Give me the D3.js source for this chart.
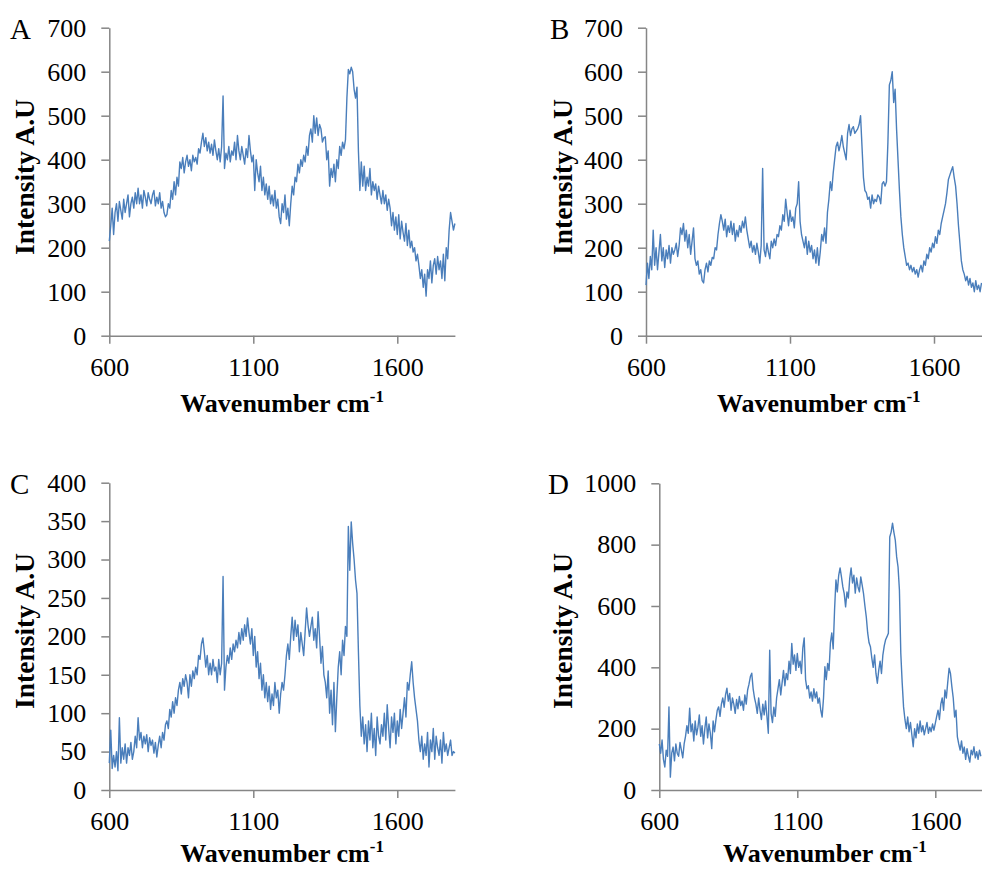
<!DOCTYPE html>
<html>
<head>
<meta charset="utf-8">
<script src="https://cdn.jsdelivr.net/npm/d3@7"></script>
<style>
  html, body { margin: 0; padding: 0; background: #ffffff; }
  svg { display: block; }
  text { font-family: "Liberation Serif", "Times New Roman", serif; fill: #000; }
</style>
</head>
<body>
<svg id="chart" width="982" height="869"></svg>
<script>
// Raman shift grid shared by all four spectra (cm-1)
const wavenumbers = [
  600,605,610,615,620,625,630,635,640,645,
  650,655,660,665,670,675,680,685,690,695,
  700,705,710,715,720,725,730,735,740,745,
  750,755,760,765,770,775,780,785,790,795,
  800,805,810,815,820,825,830,835,840,845,
  850,855,860,865,870,875,880,885,890,895,
  900,905,910,915,920,925,930,935,940,945,
  950,955,960,965,970,975,980,985,990,995,
  1000,1005,1010,1015,1020,1025,1030,1035,1040,1045,
  1050,1055,1060,1065,1070,1075,1080,1085,1090,1095,
  1100,1105,1110,1115,1120,1125,1130,1135,1140,1145,
  1150,1155,1160,1165,1170,1175,1180,1185,1190,1195,
  1200,1205,1210,1215,1220,1225,1230,1235,1240,1245,
  1250,1255,1260,1265,1270,1275,1280,1285,1290,1295,
  1300,1305,1310,1315,1320,1325,1330,1335,1340,1345,
  1350,1355,1360,1365,1370,1375,1380,1385,1390,1395,
  1400,1405,1410,1415,1420,1425,1430,1435,1440,1445,
  1450,1455,1460,1465,1470,1475,1480,1485,1490,1495,
  1500,1505,1510,1515,1520,1525,1530,1535,1540,1545,
  1550,1555,1560,1565,1570,1575,1580,1585,1590,1595,
  1600,1605,1610,1615,1620,1625,1630,1635,1640,1645,
  1650,1655,1660,1665,1670,1675,1680,1685,1690,1695,
  1700,1705,1710,1715,1720,1725,1730,1735,1740,1745,
  1750,1755,1760,1765,1770,1775,1780,1785,1790,1795,
  1800
];

// Spectrum A (intensity, A.U)
const intensityA = [
  215,250,290,230,280,300,260,305,285,265,
  310,280,300,320,270,300,315,290,325,300,
  335,300,320,290,330,315,295,325,310,300,
  320,330,295,315,300,325,290,305,280,270,
  275,300,290,330,310,350,320,360,340,395,
  380,405,370,395,410,385,400,375,410,395,
  405,390,425,415,440,460,430,450,420,440,
  415,435,410,445,420,400,425,395,430,545,
  380,415,400,430,395,420,410,440,400,455,
  420,400,430,410,390,425,405,455,420,395,
  410,330,400,370,350,385,330,360,320,345,
  310,340,300,320,295,330,290,310,270,255,
  300,280,320,265,290,250,300,340,320,360,
  350,390,370,400,385,410,395,430,410,455,
  470,440,500,460,495,455,480,470,440,450,
  452,400,420,340,380,360,390,350,400,380,
  430,410,440,425,445,540,605,595,610,600,
  560,540,565,420,330,395,340,385,330,360,
  340,380,320,350,330,345,310,340,320,300,
  330,300,320,285,310,290,250,280,240,270,
  230,275,220,260,235,215,255,205,240,200,
  215,190,200,170,185,160,130,150,110,140,
  90,150,130,170,120,160,175,140,180,150,
  170,130,185,125,200,175,240,280,260,240,
  255
];

// Spectrum B
const intensityB = [
  115,165,130,180,150,240,160,200,150,190,
  230,170,200,155,195,175,205,165,200,185,
  195,210,180,205,245,230,255,215,240,200,
  230,185,215,245,175,160,170,140,150,125,
  120,150,165,145,170,160,178,175,200,195,
  230,255,275,260,240,265,225,250,235,260,
  230,255,215,240,225,250,235,260,245,270,
  240,220,200,215,190,205,185,210,190,165,
  205,380,195,180,210,190,175,215,200,220,
  205,230,225,250,240,275,260,310,280,250,
  285,260,270,245,290,300,350,260,230,215,
  200,225,185,215,190,205,175,195,165,200,
  160,190,230,215,245,210,280,310,350,330,
  370,400,430,440,420,435,455,430,415,400,
  460,480,455,470,475,460,465,470,480,500,
  430,360,330,325,310,315,290,320,300,310,
  305,320,315,300,345,350,340,350,440,570,
  580,600,530,560,470,400,330,270,230,200,
  180,160,165,150,160,145,155,140,150,133,
  150,160,145,170,160,185,175,200,190,210,
  200,225,210,240,230,255,270,285,300,325,
  355,365,375,384,360,340,300,250,210,170,
  150,140,125,135,115,130,110,120,100,125,
  105,115,100,120
];

// Spectrum C
const intensityC = [
  35,78,28,45,30,50,25,94,35,55,
  40,60,35,55,45,62,40,50,70,55,
  94,65,75,55,70,60,72,50,68,58,
  65,48,62,43,58,70,55,75,65,85,
  90,80,105,95,115,100,120,110,130,140,
  125,145,135,150,140,120,150,135,155,145,
  160,150,175,170,190,198,180,160,175,150,
  165,150,170,155,160,140,170,150,165,278,
  130,160,175,165,185,170,190,180,195,185,
  205,190,210,195,215,200,224,205,190,210,
  175,200,160,180,145,165,130,150,120,140,
  115,135,105,125,110,140,120,130,100,125,
  140,130,150,175,190,170,200,225,195,221,
  200,215,180,205,190,175,206,237,215,200,
  213,225,195,210,185,232,200,165,187,150,
  140,120,155,100,130,85,140,76,120,160,
  180,150,195,175,213,200,343,286,349,321,
  300,273,256,180,110,70,95,60,85,50,
  90,65,100,55,80,45,95,70,60,85,
  70,100,65,111,80,55,95,75,100,60,
  90,70,105,80,100,120,95,140,130,150,
  167,140,120,105,90,65,50,70,40,60,
  45,75,30,65,50,80,40,70,55,45,
  65,35,75,50,60,45,55,65,45,50,
  48
];

// Spectrum D
const intensityD = [
  150,120,163,100,75,130,110,271,42,120,
  140,95,150,120,110,155,130,105,150,175,
  210,185,267,190,215,160,225,180,205,245,
  175,210,150,200,238,170,215,185,135,225,
  190,228,260,271,240,280,300,270,310,332,
  290,315,260,300,280,250,295,265,305,275,
  290,260,310,280,326,345,370,381,330,300,
  280,250,300,260,230,280,245,290,240,185,
  456,250,220,270,240,300,330,360,310,350,
  390,340,380,360,420,380,478,410,440,390,
  445,400,420,380,463,496,360,330,340,300,
  320,290,330,300,320,283,300,260,238,300,
  402,360,413,390,480,512,460,587,685,646,
  700,724,695,662,640,597,646,626,690,724,
  675,700,642,691,662,646,695,668,640,600,
  564,512,480,467,430,400,440,380,348,390,
  420,380,440,470,490,500,511,825,841,870,
  840,815,760,727,652,446,350,271,230,200,
  238,190,220,180,141,200,170,215,185,225,
  190,210,180,200,220,185,205,190,215,195,
  217,240,260,230,280,300,260,326,300,350,
  397,380,337,300,238,260,173,150,130,160,
  120,140,100,135,110,91,130,115,141,105,
  125,100,130,110
];

const panelLabels = ["A", "B", "C", "D"];
const xTicks = [600, 1100, 1600];
const yTicksAB = [0, 100, 200, 300, 400, 500, 600, 700];
const yTicksC = [0, 50, 100, 150, 200, 250, 300, 350, 400];
const yTicksD = [0, 200, 400, 600, 800, 1000];
const xTitle = "Wavenumber cm";
const xTitleSup = "-1";
const yTitle = "Intensity A.U";

// Panel frames (pixel geometry of each plot area)
const panels = [
  { label: panelLabels[0], values: intensityA, yMax: 700, yTicks: yTicksAB,
    left: 109.3, right: 454.9, top: 27.7, bottom: 335.7,
    labelX: 10, titleX: 34, titleY: 177, xTitleY: 412 },
  { label: panelLabels[1], values: intensityB, yMax: 700, yTicks: yTicksAB,
    left: 646, right: 991.6, top: 27.7, bottom: 335.7,
    labelX: 550, titleX: 572, titleY: 177, xTitleY: 412 },
  { label: panelLabels[2], values: intensityC, yMax: 400, yTicks: yTicksC,
    left: 109.3, right: 454.9, top: 482.7, bottom: 790,
    labelX: 10, titleX: 34, titleY: 631, xTitleY: 862 },
  { label: panelLabels[3], values: intensityD, yMax: 1000, yTicks: yTicksD,
    left: 659.3, right: 990.5, top: 483.3, bottom: 790,
    labelX: 548, titleX: 572, titleY: 631, xTitleY: 862 }
];

const svg = d3.select("#chart");
const axisColor = "#868686";
const lineColor = "#4A7EBB";

panels.forEach(p => {
  const x = d3.scaleLinear().domain([600, 1800]).range([p.left, p.right]);
  const y = d3.scaleLinear().domain([0, p.yMax]).range([p.bottom, p.top]);
  const g = svg.append("g");

  // y axis
  const ya = g.append("g")
    .attr("transform", `translate(${p.left},0)`)
    .call(d3.axisLeft(y).tickValues(p.yTicks).tickSize(8).tickSizeOuter(0).tickPadding(15).tickFormat(d3.format("d")));
  // x axis
  const xa = g.append("g")
    .attr("transform", `translate(0,${p.bottom})`)
    .call(d3.axisBottom(x).tickValues(xTicks).tickSize(8).tickSizeOuter(0).tickPadding(13.5).tickFormat(d3.format("d")));

  [ya, xa].forEach(a => {
    a.select(".domain").attr("stroke", axisColor).attr("stroke-width", 1.5);
    a.selectAll(".tick line").attr("stroke", axisColor).attr("stroke-width", 1.5);
    a.selectAll(".tick text")
      .attr("fill", "#000")
      .style("font-family", '"Liberation Serif", "Times New Roman", serif')
      .style("font-size", "26px");
  });

  // spectrum trace
  const pts = p.values.map((v, i) => [wavenumbers[i], v]);
  g.append("path")
    .datum(pts)
    .attr("fill", "none")
    .attr("stroke", lineColor)
    .attr("stroke-width", 1.4)
    .attr("stroke-linejoin", "round")
    .attr("d", d3.line().x(d => x(d[0])).y(d => y(d[1])));

  // panel letter
  g.append("text")
    .attr("x", p.labelX)
    .attr("y", p.top + 11)
    .style("font-size", "29px")
    .text(p.label);

  // y title
  g.append("text")
    .attr("transform", `translate(${p.titleX},${p.titleY}) rotate(-90)`)
    .attr("text-anchor", "middle")
    .style("font-size", "27.5px")
    .style("font-weight", "bold")
    .text(yTitle);

  // x title with superscript
  const xt = g.append("text")
    .attr("x", (p.left + p.right) / 2)
    .attr("y", p.xTitleY)
    .attr("text-anchor", "middle")
    .style("font-size", "26px")
    .style("font-weight", "bold");
  xt.append("tspan").text(xTitle);
  xt.append("tspan").attr("dy", -10).style("font-size", "17px").text(xTitleSup);
});
</script>
</body>
</html>
